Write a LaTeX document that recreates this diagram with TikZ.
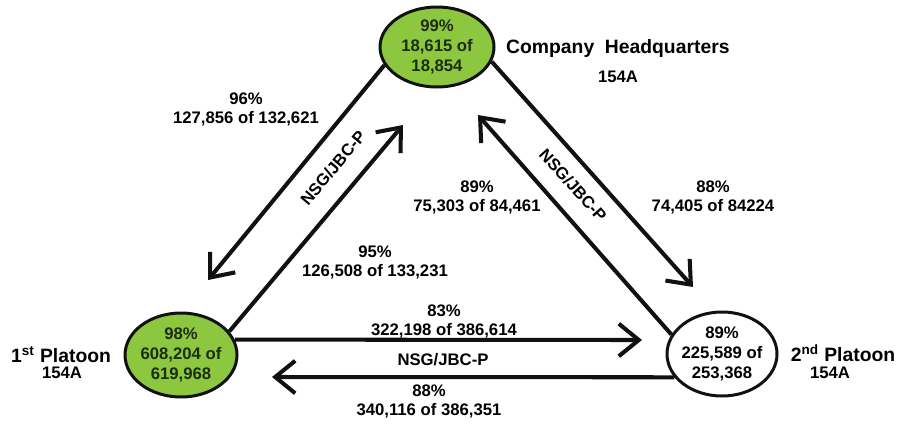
\documentclass[tikz,border=0pt]{standalone}
\usepackage{fontspec}
\setmainfont{Liberation Sans}
\usepackage{xcolor}
\definecolor{cGreen}{HTML}{8DC63F}
\definecolor{cDark}{HTML}{1B2E14}
\definecolor{cLine}{HTML}{111111}
\usetikzlibrary{arrows.meta,shapes.geometric}
\tikzset{
  node-unit/.style={draw=cLine,line width=1.7pt,ellipse,inner sep=-2pt,
    align=center,font=\bfseries\fontsize{9.5}{11.4}\selectfont},
  node-ok/.style={fill=cGreen,text=cDark},
  node-name/.style={font=\bfseries\fontsize{11}{13}\selectfont},
  node-code/.style={font=\bfseries\fontsize{9.5}{11}\selectfont},
  node-num/.style={align=center,font=\bfseries\fontsize{9.5}{10.8}\selectfont},
  arrow/.style={-{Straight Barb[length=4mm,width=6.5mm]},line width=2.3pt,draw=cLine},
}

\begin{document}
\begin{tikzpicture}[x=0.2mm,y=-0.2mm]
  \useasboundingbox (0,0) rectangle (899,423);
  % units
  \node[node-unit,node-ok,minimum width=22.8mm,minimum height=16mm] (hq) at (437,47)
    {99\%\\18,615 of\\18,854};
  \node[node-unit,node-ok,minimum width=22.4mm,minimum height=16.8mm] (p1) at (181,355)
    {98\%\\608,204 of\\619,968};
  \node[node-unit,fill=white,minimum width=22mm,minimum height=16.8mm] (p2) at (722,354)
    {89\%\\225,589 of\\253,368};
  \node[node-name,anchor=west] (hq-name) at (500,48) {Company\hspace{0.55em}Headquarters};
  \node[node-code] (hq-code) at (618,77) {154A};
  \node[node-name] (p1-name) at (61,355) {1\textsuperscript{st} Platoon};
  \node[node-code] (p1-code) at (62,373) {154A};
  \node[node-name] (p2-name) at (843,353) {2\textsuperscript{nd} Platoon};
  \node[node-code] (p2-code) at (830,373) {154A};
  % arrow tips
  \coordinate (tip-hq-l) at (403,125);
  \coordinate (tip-p1-u) at (208,280);
  \coordinate (tip-p2-u) at (693,287);
  \coordinate (tip-hq-r) at (478,115);
  \coordinate (tip-p2-l) at (642,340);
  \coordinate (tip-p1-r) at (272,377);
  \draw[arrow] (hq.199) -- (tip-p1-u);
  \draw[arrow] (p1.26) -- (tip-hq-l);
  \draw[arrow] (hq.345) -- (tip-p2-u);
  \draw[arrow] (p2.159) -- (tip-hq-r);
  \draw[arrow] (p1.16) -- (tip-p2-l);
  \draw[arrow] (p2.206) -- (tip-p1-r);
  % link labels
  \node[node-num] (l-hq-p1) at (246,109) {96\%\\127,856 of 132,621};
  \node[node-num] (l-p1-hq) at (375,262) {95\%\\126,508 of 133,231};
  \node[node-num] (l-p2-hq) at (477,197) {89\%\\75,303 of 84,461};
  \node[node-num] (l-hq-p2) at (713,197) {88\%\\74,405 of 84224};
  \node[node-num] (l-p1-p2) at (444,321) {83\%\\322,198 of 386,614};
  \node[node-num] (l-p2-p1) at (429,401) {88\%\\340,116 of 386,351};
  \node[node-num,rotate=50] (net-l) at (333,168) {NSG/JBC-P};
  \node[node-num,rotate=-48] (net-r) at (573,185) {NSG/JBC-P};
  \node[node-num] (net-b) at (443,360) {NSG/JBC-P};
\end{tikzpicture}
\end{document}
